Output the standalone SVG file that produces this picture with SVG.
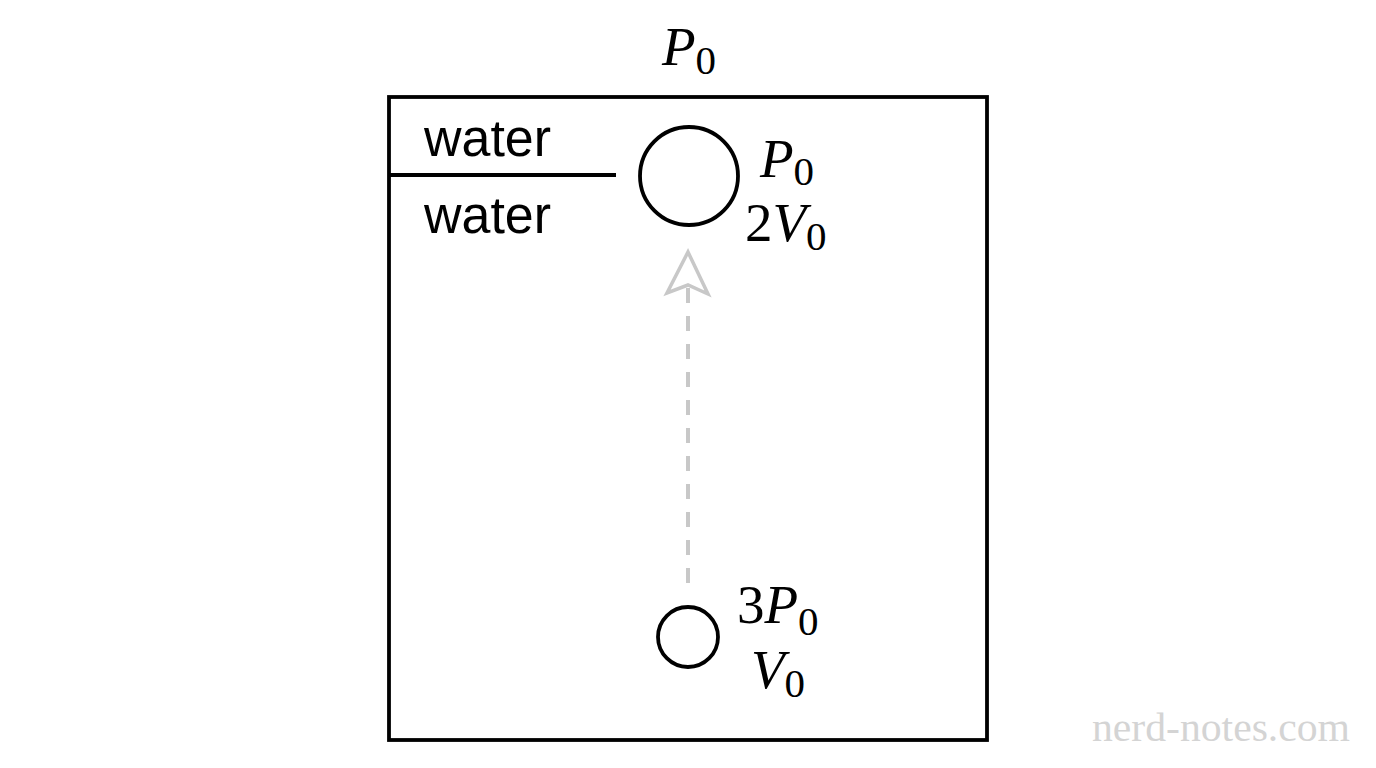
<svg xmlns="http://www.w3.org/2000/svg" width="1376" height="768" viewBox="0 0 1376 768">
<style>
.blk{fill:none;stroke:#000;stroke-width:3.8}
.lbl{font-family:"Liberation Sans",Arial,sans-serif;font-size:51px;fill:#000}
.m{font-family:"Liberation Serif","Times New Roman",serif;font-size:55px;fill:#000}
.i{font-style:italic}
.sub{font-size:41px}
</style>
<rect width="1376" height="768" fill="#fff"/>
<g id="container">
<rect class="blk" x="389" y="97" width="598" height="643"/>
<line class="blk" x1="389" y1="175" x2="616" y2="175"/>
<text class="lbl" x="424" y="156" textLength="127" lengthAdjust="spacingAndGlyphs">water</text>
<text class="lbl" x="424" y="233" textLength="127" lengthAdjust="spacingAndGlyphs">water</text>
<text class="m" x="662" y="65"><tspan class="i">P</tspan><tspan class="sub" dy="9">0</tspan></text>
</g>
<g id="bubble-top">
<circle class="blk" cx="689" cy="176" r="49"/>
<text class="m" x="760" y="177"><tspan class="i">P</tspan><tspan class="sub" dy="8">0</tspan></text>
<text class="m" x="745" y="241">2<tspan class="i">V</tspan><tspan class="sub" dy="9">0</tspan></text>
</g>
<g id="bubble-bottom">
<circle class="blk" cx="688" cy="637" r="30"/>
<text class="m" x="737" y="623">3<tspan class="i">P</tspan><tspan class="sub" dy="12">0</tspan></text>
<text class="m" x="751" y="688"><tspan class="i">V</tspan><tspan class="sub" dy="9">0</tspan></text>
</g>
<g id="connectors">
<line x1="688" y1="583" x2="688" y2="288" stroke="#c8c8c8" stroke-width="4" stroke-dasharray="15 13"/>
<polygon points="688,252 708,294 688,285 667,293" fill="#fff" stroke="#c8c8c8" stroke-width="3.5" stroke-linejoin="miter"/>
</g>
<text x="1092" y="741" font-family="'Liberation Serif','Times New Roman',serif" font-size="40" fill="#d4d4d4" textLength="258" lengthAdjust="spacingAndGlyphs">nerd-notes.com</text>
</svg>
